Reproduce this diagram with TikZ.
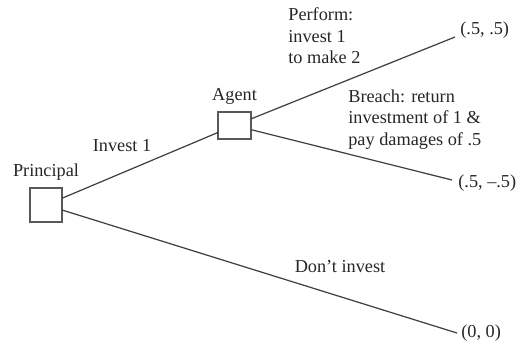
\documentclass[tikz,border=0pt]{standalone}
\usepackage{fontspec}
\setmainfont{Liberation Serif}
\usepackage{tikz}
\usetikzlibrary{positioning}

\begin{document}
\begin{tikzpicture}[
                x = 0.02cm, y = -0.02cm,
                player/.style = {
                    draw = black!65,
                    line width = 0.7pt,
                    rectangle,
                    minimum width = #1,
                    inner sep = 0pt,
                    outer sep = 0pt
                },
                player/.default = 0.64cm,
                branch/.style = {draw = black!75, line width = 0.7pt},
                txt/.style = {font = \fontsize{10.4}{12.4}\selectfont, inner sep = 0pt, text = black!85},
                node distance = {2mm}
            ]
            \useasboundingbox (0,0) rectangle (516,346);

            % decision nodes
            \node[player, minimum height=0.68cm] (P) at (46,205) {};
            \node[player=0.66cm, minimum height=0.54cm] (A) at (234.5,125.5) {};
            \node[txt, above=1.5mm of P] {Principal};
            \node[txt, above=1.5mm of A] {Agent};

            % ends of the branches
            \coordinate (perf) at (455,37);
            \coordinate (brch) at (452,180);
            \coordinate (none) at (457,333);

            \draw[branch] (P) -- (A);
            \draw[branch] (A) -- (perf);
            \draw[branch] (A) -- (brch);
            \draw[branch] (P) -- (none);

            % payoffs
            \node[txt, anchor=west] (pay1) at (460,30) {(.5, .5)};
            \node[txt, anchor=west] (pay2) at (458,183) {(.5, --.5)};
            \node[txt, anchor=west] (pay3) at (461,333) {(0, 0)};

            % moves
            \node[txt] (inv) at (122,146) {Invest 1};
            \node[txt, align=left, anchor=north west] (perfTxt) at (288,7) {Perform:\\invest 1\\to make 2};
            \node[txt, align=left, anchor=north west] (brchTxt) at (348,89) {Breach: return\\investment of 1 \&\\pay damages of .5};
            \node[txt] (dont) at (340,266) {Don't invest};

         \end{tikzpicture}
\end{document}
